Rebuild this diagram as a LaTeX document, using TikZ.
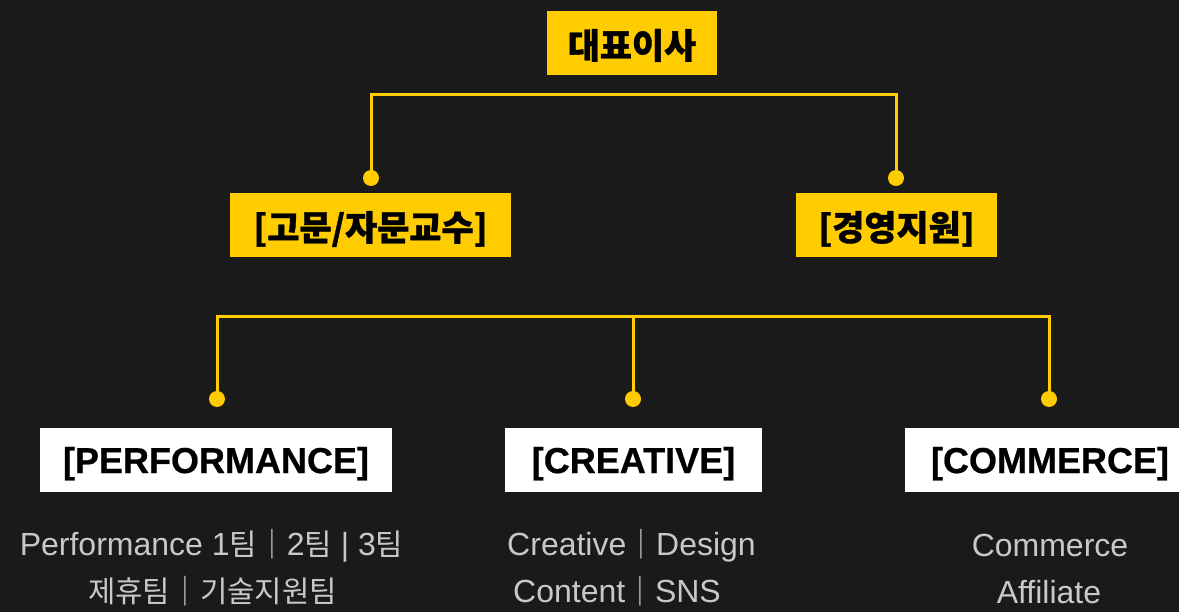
\documentclass[tikz,border=0pt]{standalone}
\usepackage{fontspec}
\setmainfont{Liberation Sans}
\newfontfamily\kr{Noto Sans CJK KR}[Scale=0.93]
\newfontfamily\krb{Noto Sans CJK KR}[Scale=0.97, BoldFeatures={FakeBold=1}]
\newfontfamily\latb{Liberation Sans}[BoldFeatures={FakeBold=0.6}]
\definecolor{bg}{HTML}{1A1A1A}
\definecolor{yel}{HTML}{FFCC00}
\definecolor{subgrey}{HTML}{C8C8C8}
\begin{document}
\begin{tikzpicture}[x=1pt,y=-1pt,
  boxbase/.style={minimum height=64pt, inner sep=0pt, text=black, font=\fontsize{36}{40}\selectfont\bfseries},
  ybox/.style={boxbase, fill=yel, text height=31pt, text depth=0pt},
  wbox/.style={boxbase, fill=white, text height=26pt, text depth=0pt},
  dotnode/.style={circle, fill=yel, minimum size=16pt, inner sep=0pt},
  conn/.style={draw=yel, line width=3pt},
  subtext/.style={text=subgrey, font=\fontsize{32}{36}\selectfont, anchor=base, inner sep=0pt}]
\fill[bg] (0,0) rectangle (1179,612);
\useasboundingbox (0,0) rectangle (1179,612);
\clip (0,0) rectangle (1179,612);

% top level
\node[ybox, minimum width=170pt] (ceo) at (632,43) {\krb\bfseries 대표이사};
\node[ybox, minimum width=281pt] (adv) at (370.5,225) {\krb\bfseries [고문/자문교수]};
\node[ybox, minimum width=201pt] (mgmt) at (896.5,225) {\krb\bfseries [경영지원]};

\node[dotnode] (da) at (371,178) {};
\node[dotnode] (db) at (896,178) {};
\coordinate (ha) at (371,95);
\coordinate (hb) at (896,95);
\draw[conn] (da.center) -- (ha) -- (hb) -- (db.center);

% second level
\node[dotnode] (dp) at (217,399) {};
\node[dotnode] (dc) at (633,399) {};
\node[dotnode] (dm) at (1049,399) {};
\coordinate (hp) at (217,317);
\coordinate (hc) at (633,317);
\coordinate (hm) at (1049,317);
\draw[conn] (dp.center) -- (hp) -- (hm) -- (dm.center);
\draw[conn] (hc) -- (dc.center);

\node[wbox, minimum width=352pt] (perf) at (216,460) {\latb\bfseries [PERFORMANCE]};
\node[wbox, minimum width=257pt] (crea) at (633.5,460) {\latb\bfseries [CREATIVE]};
\node[wbox, minimum width=290pt] (comm) at (1050,460) {\latb\bfseries [COMMERCE]};

% sub texts
\node[subtext] (p1) at (211.5,555) {Performance 1{\kr 팀｜}2{\kr 팀} | 3{\kr 팀}};
\node[subtext] (p2) at (212.5,602) {\kr 제휴팀｜기술지원팀};
\node[subtext] (c1) at (631.5,555) {Creative{\kr ｜}Design};
\node[subtext] (c2) at (617,602) {Content{\kr ｜}SNS};
\node[subtext] (m1) at (1050,556) {Commerce};
\node[subtext] (m2) at (1049,603) {Affiliate};
\end{tikzpicture}
\end{document}
